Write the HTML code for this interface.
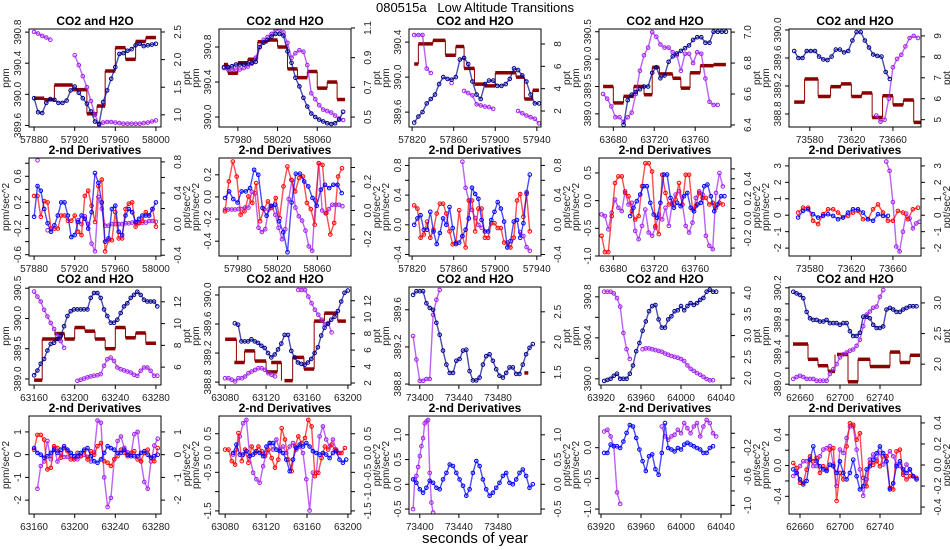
<!DOCTYPE html>
<html><head><meta charset="utf-8"><title>080515a Low Altitude Transitions</title>
<style>
html,body{margin:0;padding:0;background:#fff;}
svg{display:block;font-family:"Liberation Sans",Arial,sans-serif;}
</style></head>
<body>
<svg id="fig" width="950" height="550" viewBox="0 0 950 550" xmlns="http://www.w3.org/2000/svg">
<text x="475" y="12" text-anchor="middle" font-size="13" xml:space="preserve">080515a   Low Altitude Transitions</text>
<text x="475" y="543" text-anchor="middle" font-size="15">seconds of year</text>
</svg>
<script>
// ---------- DATA (time arrays are [start, step] in seconds of year) ----------
const p1_co2_time=[57880,4];
const p1_co2=[389.95,389.77,389.76,389.89,389.94,389.93,389.89,389.89,389.92,390.05,390.1,390.02,389.95,389.88,389.78,389.65,389.62,389.9,390.05,390.2,390.35,390.52,390.53,390.56,390.58,390.63,390.65,390.62,390.63,390.64,390.65];
const p1_h2o_time=[57880,4];
const p1_h2o=[2.5,2.47,2.43,2.4,2.36,null,null,null,null,null,2.08,1.9,1.7,1.5,1.25,1.0,0.82,0.86,0.87,0.87,0.86,0.85,0.84,0.84,0.84,0.84,0.84,0.85,0.86,0.88,0.9];
const p1_steps=[[57880,57890,389.95],[57890,57900,389.93],[57900,57918,390.12],[57918,57932,390.06],[57932,57942,389.75],[57942,57950,389.85],[57950,57960,390.3],[57960,57970,390.6],[57970,57980,390.45],[57980,57990,390.68],[57990,58000,390.73]];
const p2_co2_time=[57966,4];
const p2_co2=[390.57,390.57,390.58,390.6,390.6,390.6,390.61,390.62,390.63,390.8,390.85,390.88,390.92,390.95,390.95,390.93,390.75,390.62,390.45,390.35,390.22,390.12,390.04,390.0,389.97,389.95,389.93,389.92,389.93,389.97,390.06];
const p2_h2o_time=[57966,4];
const p2_h2o=[0.83,0.82,0.82,0.82,0.82,0.83,0.84,0.86,0.9,0.97,1.02,1.04,1.06,1.09,1.09,1.07,1.0,0.9,0.93,0.95,0.94,0.85,0.66,0.62,0.58,0.55,0.54,0.53,0.51,0.49,0.48];
const p2_steps=[[57966,57970,390.6],[57970,57980,390.5],[57980,57990,390.62],[57990,58000,390.66],[58000,58010,390.86],[58010,58020,390.88],[58020,58030,390.8],[58030,58040,390.55],[58040,58050,390.45],[58050,58060,390.52],[58060,58070,390.33],[58070,58080,390.4],[58080,58088,390.2]];
const p3_co2_time=[57822,4];
const p3_co2=[389.48,389.55,389.6,389.7,389.75,389.8,389.92,390.0,389.98,389.97,390.0,390.2,390.22,390.15,389.95,389.8,389.75,389.92,389.96,389.96,389.9,389.9,389.92,389.98,390.1,390.08,390.02,389.95,389.8,389.7,389.7];
const p3_h2o_time=[57822,4];
const p3_h2o=[8.8,8.8,8.8,5.8,5.4,null,null,null,null,4.5,null,null,3.8,3.6,3.4,2.6,2.5,2.4,2.35,2.2,null,null,null,null,null,2.0,1.8,1.6,1.45,1.3,0.9];
const p3_steps=[[57822,57826,390.15],[57826,57840,390.38],[57840,57852,390.42],[57852,57862,390.25],[57862,57870,390.35],[57870,57880,390.1],[57880,57890,389.92],[57890,57900,389.9],[57900,57920,390.05],[57920,57928,390.0],[57928,57936,389.75],[57936,57942,389.85]];
const p4_co2_time=[63690,4];
const p4_co2=[388.8,389.25,389.35,389.4,389.45,389.5,389.5,389.75,389.85,389.65,389.7,389.95,390.05,390.1,390.15,390.2,390.25,390.35,390.4,390.4,390.3,390.3,390.5,390.5,390.5,390.5];
const p4_h2o_time=[63670,4];
const p4_h2o=[6.6,6.57,6.52,6.45,6.45,6.42,6.45,6.48,6.6,6.75,6.85,6.9,7.0,6.97,6.92,6.9,6.9,6.87,6.85,6.75,6.86,6.86,6.8,6.87,6.86,6.7,6.55,6.53,6.53];
const p4_steps=[[63670,63680,389.5],[63680,63690,389.2],[63690,63700,389.32],[63700,63710,389.5],[63710,63718,389.35],[63718,63725,389.85],[63725,63738,389.73],[63738,63746,389.65],[63746,63755,389.47],[63755,63765,389.75],[63765,63778,389.88],[63778,63790,389.9]];
const p5_co2_time=[73565,4];
const p5_co2=[389.7,389.6,389.6,389.7,389.7,389.7,389.62,389.58,389.57,389.62,389.72,389.72,389.68,389.7,389.85,389.97,389.97,389.85,389.75,389.65,389.63,389.62,389.4,389.3];
const p5_h2o_time=[73644,4];
const p5_h2o=[5.2,4.9,5.0,6.0,7.5,7.9,8.1,8.5,8.9,9.0,8.9];
const p5_steps=[[73565,73575,388.97],[73575,73588,389.3],[73588,73600,389.05],[73600,73610,389.19],[73610,73620,389.23],[73620,73630,389.05],[73630,73640,389.1],[73640,73650,388.75],[73650,73660,389.06],[73660,73670,388.93],[73670,73680,389.0],[73680,73688,388.68]];
const p6_time=[57880,3.333];
const p6_co2=[-0.02,0.45,0.38,0.1,-0.12,-0.25,-0.15,0.0,0.2,0.2,0.0,-0.33,-0.3,-0.1,0.0,-0.05,-0.2,0.05,0.65,0.5,0.2,-0.4,-0.35,0.1,0.15,-0.25,-0.3,0.0,0.1,0.05,-0.1,-0.05,0.0,0.0,0.0,0.1,0.2];
const p6_red=[0.3,0.3,-0.02,0.22,0.2,-0.2,-0.2,-0.2,0.0,0.0,-0.08,-0.08,0.0,-0.25,-0.3,0.3,0.38,0.15,-0.1,0.45,0.55,-0.55,-0.38,-0.38,0.05,-0.35,-0.35,0.1,0.18,0.2,-0.17,-0.12,-0.08,0.05,0.0,0.1,-0.17];
const p6_h2o=[null,0.82,null,null,-0.08,null,null,null,null,null,null,null,null,0.05,0.0,0.1,0.0,-0.25,-0.35,0.35,0.2,-0.02,-0.02,0.0,0.0,0.0,0.0,0.01,0.01,0.02,0.02,0.02,0.02,0.02,0.04,0.04,0.03];
const p7_co2_time=[57967,4.2];
const p7_co2=[-0.01,0.05,-0.02,-0.05,0.05,0.05,0.08,0.245,0.2,-0.1,-0.17,-0.08,-0.07,-0.22,-0.32,-0.5,-0.05,0.21,0.21,0.14,0.095,-0.01,-0.08,0.065,0.11,0.08,0.11,0.11,0.035];
const p7_red_time=[57967,3.93];
const p7_red=[-0.13,0.14,0.32,0.185,-0.16,-0.13,0.005,-0.054,0.125,-0.22,-0.11,-0.04,-0.1,-0.01,-0.19,0.095,0.275,0.155,0.05,0.17,0.185,-0.054,-0.11,-0.25,0.305,0.29,-0.145,-0.34,-0.235,0.185,0.26];
const p7_h2o_time=[57967,3.38];
const p7_h2o=[0.007,0.007,0.007,0.007,0.01,0.01,0.02,0.02,0.13,0.12,-0.12,-0.15,-0.13,0.007,0.03,-0.03,-0.12,-0.2,-0.13,0.08,0.21,0.02,-0.04,-0.07,-0.14,-0.25,-0.28,0.07,0.33,0.0,-0.02,0.01,0.04,0.04,0.04,0.03];
const p8_time=[57822,3.09];
const p8_co2=[0.0,0.087,0.13,-0.066,-0.066,0.175,-0.09,-0.26,-0.11,0.087,0.0,0.24,-0.044,-0.26,-0.24,-0.15,-0.066,0.087,0.5,0.415,0.35,0.065,-0.09,-0.09,0.065,0.175,0.306,0.218,0.044,-0.306,-0.22,0.044,0.065,-0.175,0.022,0.437,0.677];
const p8_red=[0.262,0.218,-0.175,-0.131,0.044,-0.175,-0.066,0.153,0.284,0.284,0.153,-0.088,-0.262,-0.24,0.197,-0.153,-0.306,0.328,0.328,-0.088,0.218,0.218,-0.175,-0.175,0.022,0.022,-0.044,-0.044,-0.24,-0.24,-0.306,-0.175,0.328,0.415,0.109,0.415,-0.088];
const p8_h2o=[null,null,null,null,null,null,null,null,null,null,null,null,null,null,null,0.85,0.5,0.33,0.2,0.09,0.0,-0.04,null,null,null,null,null,null,null,null,null,null,null,-0.1,-0.15,-0.3,-0.35];
const p9_co2_time=[63696.4,3.29];
const p9_co2=[-0.28,-0.13,-0.01,0.11,0.26,0.26,-0.04,-0.25,-0.31,-0.04,0.47,0.47,0.05,-0.13,-0.04,-0.1,0.08,0.14,-0.13,-0.19,-0.07,-0.04,0.26,0.29,0.08,-0.19,-0.07,0.08,0.08];
const p9_time=[63668.5,3.29];
const p9_red=[-0.635,-0.93,-0.93,-0.28,0.318,0.437,0.437,0.14,0.08,-0.19,-0.34,-0.28,0.26,0.675,0.675,0.526,-0.46,-0.605,0.467,0.14,-0.07,-0.07,0.02,0.318,-0.07,0.467,0.467,-0.16,-0.1,0.14,0.05,0.05,-0.07,-0.04,-0.13,-0.04,-0.07];
const p9_h2o=[0.04,0.024,-0.11,0.057,0.19,0.107,0.074,0.274,0.14,0.157,-0.126,-0.21,-0.076,0.09,-0.143,-0.176,-0.093,0.04,-0.01,0.107,-0.076,0.157,0.24,0.274,0.14,-0.076,-0.143,-0.043,0.207,0.274,0.24,-0.176,-0.276,-0.31,0.257,0.457,0.323];
const p10_time=[73568.8,4.8];
const p10_co2=[-0.14,0.26,0.36,0.06,-0.14,-0.04,0.06,-0.04,-0.24,-0.14,0.16,0.36,0.36,0.16,-0.24,-0.34,0.06,-0.04,-0.04];
const p10_red=[0.16,0.46,0.46,-0.34,-0.54,0.06,0.36,0.36,0.16,-0.14,-0.04,0.16,0.26,-0.24,-0.24,0.36,0.66,0.16,-0.34,-0.34,0.26,0.16,-0.24,0.36,0.46];
const p10_h2o_time=[73653.6,3.2];
const p10_h2o=[3.26,2.7,0.8,-1.9,-2.2,-1.0,0.1,-0.2,-0.8,-0.5,-0.4];
const p11_time=[63160,3.28];
const p11_co2=[389.06,389.14,389.25,389.33,389.47,389.58,389.6,389.66,389.71,389.87,390.04,390.12,390.15,390.15,390.15,390.15,390.15,390.34,390.42,390.42,390.34,390.15,390.04,389.93,389.93,389.98,390.09,390.2,390.25,390.34,390.39,390.44,390.39,390.31,390.28,390.28,390.28,390.2];
const p11_h2o=[12.94,12.48,12.03,11.27,10.66,10.06,9.5,8.85,8.39,7.78,null,null,null,4.75,4.85,4.95,5.06,5.15,5.21,5.25,5.36,6.12,6.72,6.88,6.57,5.97,5.81,5.7,5.6,5.51,5.3,5.2,5.66,5.97,5.97,5.66,5.21,5.21];
const p11_steps=[[63160,63168,388.98],[63168,63187,389.66],[63180,63190,389.75],[63190,63200,389.66],[63200,63210,389.85],[63210,63220,389.79],[63220,63230,389.66],[63230,63240,389.5],[63240,63250,389.85],[63250,63260,389.68],[63260,63270,389.76],[63270,63280,389.59]];
const p12_co2_time=[63089.4,3.25];
const p12_co2=[389.61,389.59,389.36,389.36,389.36,389.39,389.36,389.34,389.3,389.27,389.2,389.14,389.18,389.25,389.33,389.45,389.45,389.23,389.14,389.07,389.05,389.04,389.07,389.12,389.2,389.28,389.44,389.55,389.6,389.66,389.7,389.78,389.91,390.03,390.06];
const p12_h2o_time=[63080,3.25];
const p12_h2o=[2.59,2.59,2.4,2.2,2.59,2.59,2.79,3.2,3.4,3.6,3.8,3.8,3.6,3.2,3.0,2.8,null,null,null,null,null,null,13.3,13.3,13.3,12.5,11.7,10.9,10.3,9.7,9.1,9.3,8.15];
const p12_steps=[[63080,63091,389.39],[63089,63099,389.07],[63099,63109,389.23],[63109,63120,389.09],[63120,63131,388.94],[63125,63135,389.07],[63138,63146,388.82],[63146,63157,389.14],[63157,63167,388.98],[63167,63177,389.64],[63177,63190,389.75],[63190,63198,389.64]];
const p13_time=[73393.2,3.4];
const p13_co2=[389.76,389.8,389.8,389.8,389.67,389.62,389.6,389.46,389.33,389.16,389.01,388.92,388.92,389.05,389.07,389.16,389.17,388.94,388.84,388.84,388.87,389.01,389.1,389.12,389.05,388.96,388.89,388.87,388.92,388.98,388.98,388.91,388.91,389.01,389.12,389.19,389.23];
const p13_h2o=[2.1,1.71,1.36,1.36,1.39,1.39,2.45,2.7,2.86];
const p13_steps=[[73507,73511,388.92]];
const p14_time=[63923.2,3.2];
const p14_co2=[389.98,389.99,390.0,390.03,390.05,390.0,390.0,390.0,390.05,390.13,390.27,390.35,390.47,390.56,390.66,390.71,390.72,390.58,390.5,390.5,390.58,390.61,390.66,390.67,390.71,390.67,390.71,390.74,390.72,390.74,390.77,390.79,390.85,390.87,390.85,390.85];
const p14_h2o=[4.03,4.03,4.03,3.99,3.88,3.68,3.06,2.68,2.45,null,null,null,2.68,2.7,2.7,2.68,2.66,2.64,2.62,2.58,2.55,2.52,2.5,2.48,2.45,2.4,2.3,2.22,2.17,2.12,2.08,2.03,1.98,1.95,1.95];
const p15_time=[62653.3,3.33];
const p15_co2=[390.15,390.13,390.11,390.07,389.9,389.82,389.8,389.8,389.78,389.78,389.8,389.76,389.76,389.76,389.74,389.76,389.76,389.66,389.6,389.6,389.64,389.84,389.84,389.82,389.74,389.7,389.7,389.72,389.93,389.95,389.93,389.9,389.9,389.93,389.95,389.97,389.97,389.97];
const p15_h2o=[1.76,1.79,1.81,1.79,1.76,1.76,1.76,1.73,1.73,1.73,1.73,1.84,1.92,2.0,2.11,2.16,2.19,2.22,2.24,2.3,2.4,2.62,2.81,2.86,2.92,2.94,3.1,3.21];
const p15_steps=[[62653,62668,389.5],[62668,62678,389.31],[62678,62688,389.23],[62688,62695,389.16],[62697,62708,389.37],[62708,62718,389.03],[62718,62730,389.31],[62730,62740,389.22],[62740,62750,389.22],[62750,62760,389.4],[62760,62770,389.27],[62770,62780,389.36]];
const p16_time=[63160,3.29];
const p16_co2=[0.29,0.076,0.0,-0.14,-0.07,0.076,0.22,0.076,0.22,0.37,0.22,0.076,-0.07,-0.07,0.076,0.22,0.29,-0.07,-0.29,-0.36,-0.21,0.076,0.37,0.29,0.22,0.076,0.076,0.22,0.0,-0.07,-0.07,-0.07,0.076,0.15,0.0,-0.14,-0.07,0.0];
const p16_red=[0.22,0.87,0.87,0.66,-0.65,-0.58,0.37,0.29,-0.14,0.29,0.15,-0.21,-0.21,0.076,-0.07,0.15,-0.21,0.15,0.0,0.37,0.51,-0.29,-0.36,-0.5,-0.21,-0.07,0.22,0.076,-0.07,0.076,0.15,-0.21,-0.29,0.076,0.22,-0.14,-0.29,0.29];
const p16_h2o=[null,-1.5,-0.5,-0.3,0.6,-0.2,0.3,-0.3,0.05,-0.1,-0.1,-0.05,-0.2,-0.2,-0.05,0.0,-0.1,-0.3,0.1,1.5,1.4,-1.0,-2.3,-1.9,-0.2,0.6,0.8,0.3,0.1,0.0,0.9,1.0,-0.3,-1.2,-1.5,-0.3,0.4,0.7];
const p17_co2_time=[63087.8,3.25];
const p17_co2=[0.0,0.22,-0.04,-0.04,0.05,-0.08,-0.04,0.05,0.0,-0.08,0.17,0.26,0.26,0.09,0.05,0.0,-0.17,-0.47,-0.17,0.13,0.22,0.17,0.26,0.17,0.05,0.0,-0.04,0.0,-0.04,-0.13,0.0,0.05,-0.17,-0.25,-0.17];
const p17_red_time=[63080,3.25];
const p17_red=[0.09,0.09,-0.21,-0.3,0.52,-0.21,0.09,-0.25,0.17,0.0,0.17,0.05,-0.08,0.09,-0.13,-0.38,-0.17,0.64,0.35,-0.17,-0.47,0.17,0.43,0.26,0.39,0.86,0.69,-0.6,-0.51,-0.13,0.17,0.09,0.22,0.09,0.0,0.0,0.13];
const p17_h2o_time=[63087.8,3.25];
const p17_h2o=[-0.04,0.09,0.43,0.77,0.86,-0.08,-0.51,-0.68,-0.77,-0.34,0.0,0.26,0.09,0.35,0.09,0.17,0.0,0.17,0.26,0.09,0.17,0.0,-0.68,-1.49,-0.51,-0.51,0.43,0.69,0.35,0.17,0.35,0.09,0.0];
const p18_co2_time=[73393.2,3.4];
const p18_co2=[0.1,0.03,-0.1,-0.17,-0.07,0.07,0.03,-0.07,-0.1,0.1,0.23,0.4,0.37,0.23,0.1,-0.03,-0.23,-0.1,0.23,0.47,0.37,0.1,-0.1,-0.23,-0.17,-0.07,0.03,0.17,0.23,0.03,0.0,0.1,0.23,0.3,0.17,-0.07,0.0];
const p18_h2o_time=[73393.2,1.7];
const p18_h2o=[-0.5,0.1,0.17,0.35,0.57,0.77,0.93,1.23,1.27,1.3,0.23,-0.37,-0.57];
const p19_time=[63923.2,3.2];
const p19_co2=[-0.085,-0.085,0.05,0.022,0.022,-0.005,0.1,0.24,0.37,0.345,0.16,-0.03,-0.22,-0.38,-0.14,-0.11,-0.35,-0.44,-0.085,0.4,-0.005,-0.03,-0.06,-0.005,-0.03,0.05,0.08,0.05,0.022,-0.005,-0.03,-0.085,-0.085,-0.005,0.022];
const p19_h2o=[0.024,0.047,-0.044,-0.18,-0.82,-0.98,null,null,null,null,null,null,null,null,null,null,null,null,0.093,-0.044,-0.09,-0.044,-0.02,0.047,0.0,0.14,0.07,0.0,0.093,0.14,-0.044,0.093,0.185,0.14,0.0,-0.044];
const p20_time=[62653.3,3.33];
const p20_co2=[-0.05,-0.095,-0.18,-0.245,-0.2,0.077,0.25,0.056,-0.01,-0.05,-0.07,0.012,-0.01,-0.095,0.056,-0.095,-0.18,-0.095,0.077,-0.14,-0.31,-0.27,-0.05,-0.01,0.077,0.16,0.25,0.16,0.056,-0.31,-0.23,-0.01,0.056,-0.05,-0.095,-0.05,-0.14,-0.18];
const p20_red=[0.034,-0.03,-0.224,-0.224,-0.052,0.12,0.056,0.1,-0.095,-0.01,-0.052,0.206,0.228,-0.46,-0.095,-0.18,0.25,0.55,0.53,0.335,0.42,-0.16,-0.27,0.034,0.012,0.056,-0.01,0.12,0.12,-0.29,-0.31,0.185,0.206,-0.12,-0.18,-0.14,-0.14,-0.16];
const p20_h2o=[-0.105,-0.073,-0.01,0.036,0.036,0.052,-0.01,-0.01,0.083,0.146,0.16,0.18,0.005,-0.2,0.146,0.115,0.256,0.366,0.366,0.146,-0.042,-0.293,-0.136,0.052,0.1,0.052,0.115,0.005,0.083,0.13,0.083,0.005,-0.01,-0.073,0.005,-0.042,-0.105,-0.136];

const xt1=["57880","57920","57960","58000"], xt2=["57980","58020","58060"], xt3=["57820","57860","57900","57940"], xt4=["63680","63720","63760"], xt5=["73580","73620","73660"];
const xt11=["63160","63200","63240","63280"], xt12=["63080","63120","63160","63200"], xt13=["73400","73440","73480"], xt14=["63920","63960","64000","64040"], xt15=["62660","62700","62740"];

const NAVY="#00008B", PURP="#A020F0", DRED="#8B0000", BLUE="#0000FF", RED="#FF0000";
const colX=[29,219,409,599,789], rowY=[29,158,287,416], PW=132, PH=98;

const panels=[
 {c:0,r:0,t:"CO2 and H2O",xl:[57875,58005],xt:xt1,yl:[389.58,390.84],ylt:["389.6","390.0","390.4","390.8"],yr:[0.78,2.554],yrt:["1.0","1.5","2.0","2.5"],la:"ppm",ra:"ppt",
  s:[{v:p1_h2o,tm:p1_h2o_time,ax:"R",col:PURP,n:"h2o"},{v:p1_co2,tm:p1_co2_time,ax:"L",col:NAVY,n:"co2"}],st:p1_steps},
 {c:1,r:0,t:"CO2 and H2O",xl:[57961,58094],xt:xt2,yl:[389.886,391.006],ylt:["390.0","390.4","390.8"],yr:[0.433,1.093],yrt:["0.5","0.7","0.9","1.1"],la:"ppm",ra:"ppt",
  s:[{v:p2_h2o,tm:p2_h2o_time,ax:"R",col:PURP,n:"h2o"},{v:p2_co2,tm:p2_co2_time,ax:"L",col:NAVY,n:"co2"}],st:p2_steps},
 {c:2,r:0,t:"CO2 and H2O",xl:[57817,57944],xt:xt3,yl:[389.43,390.55],ylt:["389.6","390.0","390.4"],yr:[0.57,9.34],yrt:["2","4","6","8"],la:"ppm",ra:"ppt",
  s:[{v:p3_h2o,tm:p3_h2o_time,ax:"R",col:PURP,n:"h2o"},{v:p3_co2,tm:p3_co2_time,ax:"L",col:NAVY,n:"co2"}],st:p3_steps},
 {c:3,r:0,t:"CO2 and H2O",xl:[63666,63795],xt:xt4,yl:[388.76,390.55],ylt:["389.0","389.5","390.0","390.5"],yr:[6.387,7.02],yrt:["6.4","6.6","6.8","7.0"],la:"ppm",ra:"ppt",
  s:[{v:p4_h2o,tm:p4_h2o_time,ax:"R",col:PURP,n:"h2o"},{v:p4_co2,tm:p4_co2_time,ax:"L",col:NAVY,n:"co2"}],st:p4_steps},
 {c:4,r:0,t:"CO2 and H2O",xl:[73560,73687],xt:xt5,yl:[388.614,390.014],ylt:["388.8","389.2","389.6","390.0"],yr:[4.65,9.33],yrt:["5","6","7","8","9"],la:"ppm",ra:"ppt",
  s:[{v:p5_h2o,tm:p5_h2o_time,ax:"R",col:PURP,n:"h2o"},{v:p5_co2,tm:p5_co2_time,ax:"L",col:NAVY,n:"co2"}],st:p5_steps},

 {c:0,r:1,t:"2-nd Derivatives",xl:[57875,58005],xt:xt1,yl:[-0.62,0.88],ylt:["-0.6","~-0.4","-0.2","~0.0","0.2","~0.4","0.6","~0.8"],yr:[-0.41,0.85],yrt:["-0.4","~-0.2","0.0","~0.2","0.4","~0.6","0.8"],la:"ppm/sec^2",ra:"ppt/sec^2",
  s:[{v:p6_h2o,tm:p6_time,ax:"R",col:PURP,n:"h2o"},{v:p6_red,tm:p6_time,ax:"L",col:RED,n:"co2-smoothed"},{v:p6_co2,tm:p6_time,ax:"L",col:BLUE,n:"co2"}]},
 {c:1,r:1,t:"2-nd Derivatives",xl:[57961,58094],xt:xt2,yl:[-0.534,0.352],ylt:["-0.4","-0.2","0.0","0.2"],yr:[-0.317,0.366],yrt:["-0.2","~-0.1","0.0","~0.1","0.2","~0.3"],la:"ppm/sec^2",ra:"ppt/sec^2",
  s:[{v:p7_h2o,tm:p7_h2o_time,ax:"R",col:PURP,n:"h2o"},{v:p7_red,tm:p7_red_time,ax:"L",col:RED,n:"co2-smoothed"},{v:p7_co2,tm:p7_co2_time,ax:"L",col:BLUE,n:"co2"}]},
 {c:2,r:1,t:"2-nd Derivatives",xl:[57817,57944],xt:xt3,yl:[-0.42,0.9],ylt:["-0.4","~-0.2","0.0","~0.2","0.4","~0.6","0.8"],yr:[-0.42,0.9],yrt:["-0.4","~-0.2","0.0","~0.2","0.4","~0.6","0.8"],la:"ppm/sec^2",ra:"ppt/sec^2",
  s:[{v:p8_h2o,tm:p8_time,ax:"R",col:PURP,n:"h2o"},{v:p8_red,tm:p8_time,ax:"L",col:RED,n:"co2-smoothed"},{v:p8_co2,tm:p8_time,ax:"L",col:BLUE,n:"co2"}]},
 {c:3,r:1,t:"2-nd Derivatives",xl:[63666,63795],xt:xt4,yl:[-1.0,0.77],ylt:["-1.0","-0.5","0.0","0.5"],yr:[-0.38,0.61],yrt:["~-0.3","-0.2","~-0.1","0.0","~0.1","0.2","~0.3","0.4","~0.5"],la:"ppm/sec^2",ra:"ppt/sec^2",
  s:[{v:p9_h2o,tm:p9_time,ax:"R",col:PURP,n:"h2o"},{v:p9_red,tm:p9_time,ax:"L",col:RED,n:"co2-smoothed"},{v:p9_co2,tm:p9_co2_time,ax:"L",col:BLUE,n:"co2"}]},
 {c:4,r:1,t:"2-nd Derivatives",xl:[73560,73687],xt:xt5,yl:[-2.48,3.48],ylt:["-2","-1","0","1","2","3"],yr:[-2.48,3.48],yrt:["-2","-1","0","1","2","3"],la:"ppm/sec^2",ra:"ppt/sec^2",
  s:[{v:p10_h2o,tm:p10_h2o_time,ax:"R",col:PURP,n:"h2o"},{v:p10_red,tm:p10_time,ax:"L",col:RED,n:"co2-smoothed"},{v:p10_co2,tm:p10_time,ax:"L",col:BLUE,n:"co2"}]},

 {c:0,r:2,t:"CO2 and H2O",xl:[63155,63285],xt:xt11,yl:[388.9,390.52],ylt:["389.0","389.5","390.0","390.5"],yr:[4.36,13.36],yrt:["6","8","10","12"],la:"ppm",ra:"ppt",
  s:[{v:p11_h2o,tm:p11_time,ax:"R",col:PURP,n:"h2o"},{v:p11_co2,tm:p11_time,ax:"L",col:NAVY,n:"co2"}],st:p11_steps},
 {c:1,r:2,t:"CO2 and H2O",xl:[63074,63203],xt:xt12,yl:[388.76,390.11],ylt:["388.8","389.2","389.6","390.0"],yr:[1.76,13.67],yrt:["2","4","6","8","10","12"],la:"ppm",ra:"ppt",
  s:[{v:p12_h2o,tm:p12_h2o_time,ax:"R",col:PURP,n:"h2o"},{v:p12_co2,tm:p12_co2_time,ax:"L",col:NAVY,n:"co2"}],st:p12_steps},
 {c:2,r:2,t:"CO2 and H2O",xl:[73389,73524],xt:xt13,yl:[388.79,389.845],ylt:["388.8","389.2","389.6"],yr:[1.29,2.91],yrt:["1.5","2.0","2.5"],la:"ppm",ra:"ppt",
  s:[{v:p13_h2o,tm:p13_time,ax:"R",col:PURP,n:"h2o"},{v:p13_co2,tm:p13_time,ax:"L",col:NAVY,n:"co2"}],st:p13_steps},
 {c:3,r:2,t:"CO2 and H2O",xl:[63918,64050],xt:xt14,yl:[389.94,390.896],ylt:["390.0","~390.2","390.4","~390.6","390.8"],yr:[1.84,4.14],yrt:["2.0","2.5","3.0","3.5","4.0"],la:"ppm",ra:"ppt",
  s:[{v:p14_h2o,tm:p14_time,ax:"R",col:PURP,n:"h2o"},{v:p14_co2,tm:p14_time,ax:"L",col:NAVY,n:"co2"}]},
 {c:4,r:2,t:"CO2 and H2O",xl:[62649,62781],xt:xt15,yl:[388.99,390.21],ylt:["389.0","~389.2","389.4","~389.6","389.8","~390.0","390.2"],yr:[1.66,3.26],yrt:["2.0","2.5","3.0"],la:"ppm",ra:"ppt",
  s:[{v:p15_h2o,tm:p15_time,ax:"R",col:PURP,n:"h2o"},{v:p15_co2,tm:p15_time,ax:"L",col:NAVY,n:"co2"}],st:p15_steps},

 {c:0,r:3,t:"2-nd Derivatives",xl:[63155,63285],xt:xt11,yl:[-2.61,1.7],ylt:["-2","-1","0","1"],yr:[-2.61,1.7],yrt:["-2","-1","0","1"],la:"ppm/sec^2",ra:"ppt/sec^2",
  s:[{v:p16_h2o,tm:p16_time,ax:"R",col:PURP,n:"h2o"},{v:p16_red,tm:p16_time,ax:"L",col:RED,n:"co2-smoothed"},{v:p16_co2,tm:p16_time,ax:"L",col:BLUE,n:"co2"}]},
 {c:1,r:3,t:"2-nd Derivatives",xl:[63074,63203],xt:xt12,yl:[-1.58,0.96],ylt:["-1.5","~-1.0","-0.5","0.0","0.5"],yr:[-1.58,0.96],yrt:["-1.5","-1.0","-0.5","0.0","0.5"],la:"ppm/sec^2",ra:"ppt/sec^2",
  s:[{v:p17_h2o,tm:p17_h2o_time,ax:"R",col:PURP,n:"h2o"},{v:p17_red,tm:p17_red_time,ax:"L",col:RED,n:"co2-smoothed"},{v:p17_co2,tm:p17_co2_time,ax:"L",col:BLUE,n:"co2"}]},
 {c:2,r:3,t:"2-nd Derivatives",xl:[73389,73524],xt:xt13,yl:[-0.6,1.38],ylt:["-0.5","0.0","0.5","1.0"],yr:[-0.6,1.38],yrt:["-0.5","0.0","0.5","1.0"],la:"ppm/sec^2",ra:"ppt/sec^2",
  s:[{v:p18_h2o,tm:p18_h2o_time,ax:"R",col:PURP,n:"h2o"},{v:p18_co2,tm:p18_co2_time,ax:"L",col:BLUE,n:"co2"}]},
 {c:3,r:3,t:"2-nd Derivatives",xl:[63918,64050],xt:xt14,yl:[-1.08,0.516],ylt:["-1.0","-0.5","0.0"],yr:[-1.12,0.239],yrt:["-1.0","~-0.8","-0.6","~-0.4","-0.2","~0.0"],la:"ppm/sec^2",ra:"ppt/sec^2",
  s:[{v:p19_h2o,tm:p19_time,ax:"R",col:PURP,n:"h2o"},{v:p19_co2,tm:p19_time,ax:"L",col:BLUE,n:"co2"}]},
 {c:4,r:3,t:"2-nd Derivatives",xl:[62649,62781],xt:xt15,yl:[-0.63,0.645],ylt:["-0.4","~-0.2","0.0","~0.2","0.4"],yr:[-0.466,0.466],yrt:["-0.4","-0.2","0.0","0.2","0.4"],la:"ppm/sec^2",ra:"ppt/sec^2",
  s:[{v:p20_h2o,tm:p20_time,ax:"R",col:PURP,n:"h2o"},{v:p20_red,tm:p20_time,ax:"L",col:RED,n:"co2-smoothed"},{v:p20_co2,tm:p20_time,ax:"L",col:BLUE,n:"co2"}]}
];

// ---------- RENDERING ----------
const NS="http://www.w3.org/2000/svg";
const svg=document.getElementById("fig");
function mk(tag,attrs,parent){const e=document.createElementNS(NS,tag);for(const k in attrs)e.setAttribute(k,attrs[k]);parent.appendChild(e);return e;}
const defs=mk("defs",{},svg);

panels.forEach((p,i)=>{
  const L=colX[p.c], T=rowY[p.r], R=L+PW, B=T+PH;
  const g=mk("g",{},svg);
  
  
  const sx=t=>L+(t-p.xl[0])/(p.xl[1]-p.xl[0])*PW;
  const syL=v=>B-(v-p.yl[0])/(p.yl[1]-p.yl[0])*PH;
  const syR=v=>B-(v-p.yr[0])/(p.yr[1]-p.yr[0])*PH;
  const cp=mk("clipPath",{id:"cp"+i},defs);
  mk("rect",{x:L,y:T,width:PW,height:PH},cp);

  const ti=mk("text",{x:L+PW/2,y:T-4,"text-anchor":"middle","font-size":12,"font-weight":"bold"},g);
  ti.textContent=p.t;
  
  

  const plot=mk("g",{"clip-path":"url(#cp"+i+")"},g);
  
  

  if(p.st){
    const sg=mk("g",{},plot);
    
    
    p.st.forEach((s,k)=>{
      const ln=mk("line",{x1:sx(s[0]),x2:sx(s[1]),y1:syL(s[2]),y2:syL(s[2]),stroke:DRED,"stroke-width":3.5},sg);
      
      
      if(k<p.st.length-1){
        const nx=p.st[k+1];
        const cn=mk("line",{x1:sx(s[1]),x2:sx(s[1]),y1:syL(s[2]),y2:syL(nx[2]),stroke:DRED,"stroke-width":1},sg);
        
        
      }
    });
  }
  p.s.forEach(s=>{
    const sy=s.ax==="L"?syL:syR;
    const sg=mk("g",{},plot);
    
    
    let seg=[];
    const segs=[];
    s.v.forEach((v,k)=>{
      if(v===null){if(seg.length)segs.push(seg);seg=[];return;}
      seg.push([sx(s.tm[0]+k*s.tm[1]),sy(v)]);
    });
    if(seg.length)segs.push(seg);
    segs.forEach(sgm=>{
      const pl=mk("polyline",{points:sgm.map(q=>q[0].toFixed(1)+","+q[1].toFixed(1)).join(" "),fill:"none",stroke:s.col,"stroke-width":1.4,"stroke-opacity":0.7},sg);
      
      
      sgm.forEach(q=>{
        const c=mk("circle",{cx:q[0].toFixed(1),cy:q[1].toFixed(1),r:1.8,fill:"none",stroke:s.col,"stroke-width":1},sg);
        
        
      });
    });
  });

  const bx=mk("rect",{x:L,y:T,width:PW,height:PH,fill:"none",stroke:"#000","stroke-width":1},g);
  
  

  const xa=mk("g",{},g);
  
  
  p.xt.forEach(lab=>{
    const x=sx(parseFloat(lab));
    mk("line",{x1:x,x2:x,y1:B,y2:B+4,stroke:"#000","stroke-width":1},xa);
    const tx=mk("text",{x:x,y:B+16,"text-anchor":"middle","font-size":10,fill:"#222"},xa);
    tx.textContent=lab;
    
    
  });
  const ya=mk("g",{},g);
  
  
  p.ylt.forEach(lab=>{
    const minor=lab[0]==="~"; const v=parseFloat(minor?lab.slice(1):lab); const y=syL(v);
    mk("line",{x1:L-4,x2:L,y1:y,y2:y,stroke:"#000","stroke-width":1},ya);
    if(!minor){
      const tx=mk("text",{x:0,y:0,transform:"translate("+(L-8)+","+y+") rotate(-90)","text-anchor":"middle","font-size":10,fill:"#222"},ya);
      tx.textContent=lab;
      
      
    }
  });
  const lt=mk("text",{x:0,y:0,transform:"translate("+(L-20)+","+(T+PH/2)+") rotate(-90)","text-anchor":"middle","font-size":10,fill:"#222"},ya);
  lt.textContent=p.la;
  
  
  const ra=mk("g",{},g);
  
  
  p.yrt.forEach(lab=>{
    const minor=lab[0]==="~"; const v=parseFloat(minor?lab.slice(1):lab); const y=syR(v);
    mk("line",{x1:R,x2:R+4,y1:y,y2:y,stroke:"#000","stroke-width":1},ra);
    if(!minor){
      const tx=mk("text",{x:0,y:0,transform:"translate("+(R+20)+","+y+") rotate(-90)","text-anchor":"middle","font-size":10,fill:"#222"},ra);
      tx.textContent=lab;
      
      
    }
  });
  const rt=mk("text",{x:0,y:0,transform:"translate("+(R+29)+","+(T+PH/2)+") rotate(-90)","text-anchor":"middle","font-size":10,fill:"#222"},ra);
  rt.textContent=p.ra;
  
  
});
</script>
</body></html>
